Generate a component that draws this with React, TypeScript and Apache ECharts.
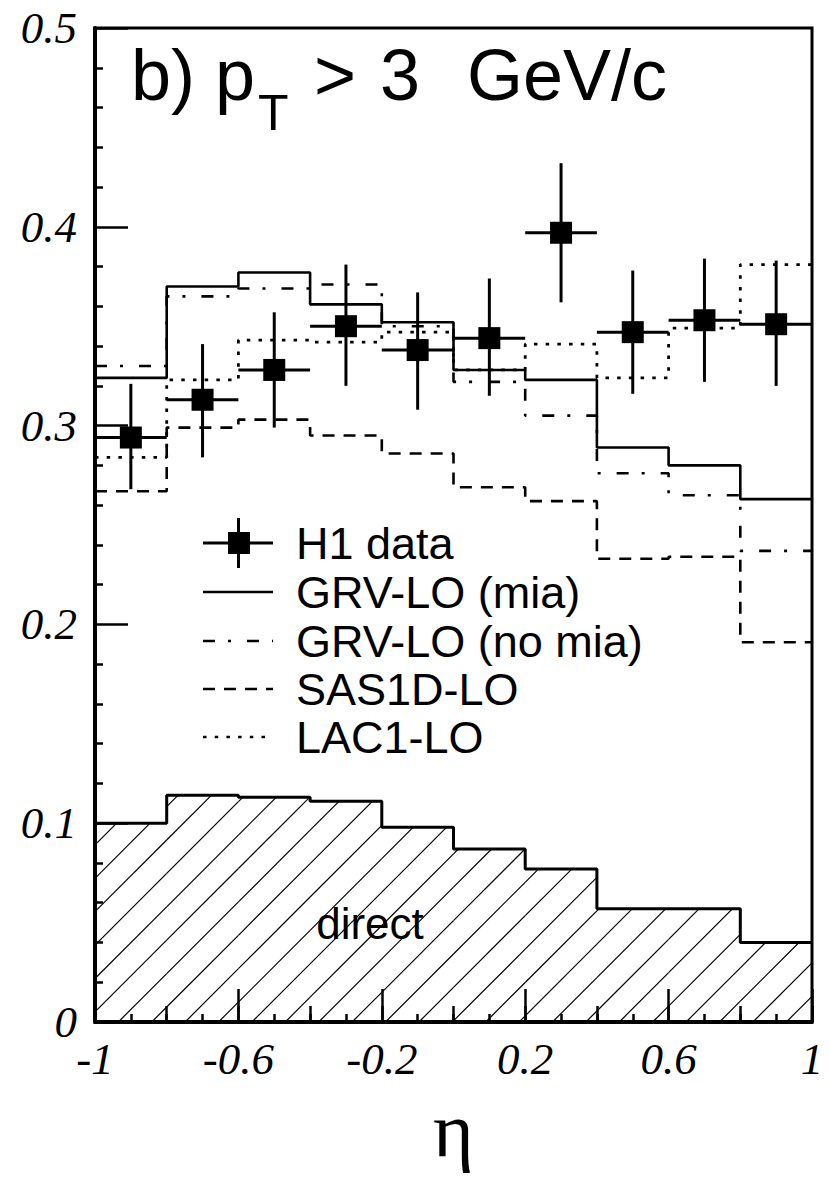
import React, { useEffect, useRef } from "react";
import * as echarts from "echarts";

// ---------- data ----------
const binEdges = [-1, -0.8, -0.6, -0.4, -0.2, 0, 0.2, 0.4, 0.6, 0.8, 1];
const etaCenters = [-0.9, -0.7, -0.5, -0.3, -0.1, 0.1, 0.3, 0.5, 0.7, 0.9];

const h1Data = [0.294, 0.313, 0.328, 0.35, 0.338, 0.344, 0.397, 0.347, 0.353, 0.351];
const h1Low = [0.268, 0.284, 0.299, 0.32, 0.308, 0.315, 0.362, 0.316, 0.322, 0.32];
const h1High = [0.321, 0.341, 0.357, 0.381, 0.367, 0.374, 0.432, 0.378, 0.384, 0.383];

const grvMia = [0.324, 0.37, 0.377, 0.361, 0.352, 0.328, 0.323, 0.289, 0.28, 0.263];
const grvNoMia = [0.33, 0.365, 0.369, 0.371, 0.35, 0.322, 0.305, 0.276, 0.265, 0.237];
const sas1d = [0.267, 0.299, 0.303, 0.295, 0.286, 0.269, 0.262, 0.233, 0.234, 0.191];
const lac1 = [0.284, 0.323, 0.343, 0.342, 0.347, 0.328, 0.341, 0.324, 0.349, 0.381];
const direct = [0.1, 0.114, 0.113, 0.111, 0.098, 0.087, 0.077, 0.057, 0.057, 0.04];

const legendLabels = ["H1 data", "GRV-LO (mia)", "GRV-LO (no mia)", "SAS1D-LO", "LAC1-LO"];
const titleParts = ["b) p", "T", ">", "3", "GeV/c"];
const directLabel = "direct";
const xAxisName = "η";

function stepData(vals: number[]) {
  const pts = vals.map((v, i) => [binEdges[i], v]);
  pts.push([binEdges[binEdges.length - 1], vals[vals.length - 1]]);
  return pts;
}

const BLACK = "#000";
const SANS = "'Liberation Sans', Arial, Helvetica, sans-serif";
const SERIF = "'Liberation Serif', 'Times New Roman', serif";

const DASH_DOT = [12, 13, 3, 16];
const DASHED = [12, 9];
const DOTTED = [3.5, 8.2];

export default function App() {
  const ref = useRef<HTMLDivElement>(null);

  useEffect(() => {
    const chart = echarts.init(ref.current!, null, { renderer: "svg" });

    const histLine = (name: string, vals: number[], dash: any, width = 2.6) => ({
      type: "line",
      name,
      data: stepData(vals),
      step: "end",
      symbol: "none",
      showSymbol: false,
      silent: true,
      z: 3,
      lineStyle: { color: BLACK, width, type: dash, cap: "butt" },
    });

    const legendY = [543, 592, 641, 689, 737];
    const lx1 = 203;
    const lx2 = 273;
    const legendGraphics: any[] = [];
    legendGraphics.push(
      { type: "line", shape: { x1: lx1, y1: legendY[0], x2: lx2, y2: legendY[0] }, style: { stroke: BLACK, lineWidth: 3 } },
      { type: "line", shape: { x1: 238.5, y1: legendY[0] - 25, x2: 238.5, y2: legendY[0] + 25 }, style: { stroke: BLACK, lineWidth: 3 } },
      { type: "rect", shape: { x: 228, y: legendY[0] - 11, width: 22, height: 22 }, style: { fill: BLACK } }
    );
    const dashes: any[] = [null, null, DASH_DOT, DASHED, DOTTED];
    for (let i = 1; i < 5; i++) {
      legendGraphics.push({
        type: "line",
        shape: { x1: lx1, y1: legendY[i], x2: lx2, y2: legendY[i] },
        style: { stroke: BLACK, lineWidth: 2.6, lineDash: dashes[i] || null },
      });
    }
    for (let i = 0; i < 5; i++) {
      legendGraphics.push({
        type: "text",
        x: 296,
        y: legendY[i],
        style: {
          text: legendLabels[i],
          fill: BLACK,
          fontFamily: SANS,
          fontSize: 45,
          align: "left",
          verticalAlign: "middle",
        },
      });
    }

    const titleY = 75;
    const titleX = [131, 258, 314, 380, 467];
    const titleGraphics = titleParts.map((t, i) => ({
      type: "text",
      x: titleX[i],
      y: i === 1 ? 113 : titleY,
      style: {
        text: t,
        fill: BLACK,
        fontFamily: SANS,
        fontSize: i === 1 ? 50 : 72,
        align: "left",
        verticalAlign: "middle",
      },
    }));

    const option: any = {
      animation: false,
      backgroundColor: "#fff",
      grid: {
        left: 95,
        right: 18,
        top: 28,
        bottom: 161,
        show: true,
        borderColor: BLACK,
        borderWidth: 3,
        outerBoundsMode: "none",
      },
      xAxis: [
        {
          type: "value",
          min: -1,
          max: 1,
          interval: 0.4,
          position: "bottom",
          name: xAxisName,
          nameLocation: "middle",
          nameGap: 68,
          nameTextStyle: { fontFamily: SERIF, fontSize: 78, color: BLACK },
          axisLine: { show: true, onZero: false, lineStyle: { color: BLACK, width: 4 } },
          axisTick: { show: true, inside: true, length: 33, lineStyle: { color: BLACK, width: 2.5 } },
          minorTick: { show: true, splitNumber: 4, length: 8, lineStyle: { color: BLACK, width: 2.5 } },
          splitLine: { show: false },
          minorSplitLine: { show: false },
          axisLabel: {
            fontFamily: SERIF,
            fontStyle: "italic",
            fontSize: 45,
            color: BLACK,
            margin: 14,
          },
        },
        {
          type: "value",
          min: -1,
          max: 1,
          interval: 0.2,
          position: "bottom",
          axisLine: { show: false, onZero: false },
          axisTick: { show: true, inside: true, length: 16, lineStyle: { color: BLACK, width: 2.5 } },
          axisLabel: { show: false },
          splitLine: { show: false },
        },
      ],
      yAxis: {
        type: "value",
        min: 0,
        max: 0.5,
        interval: 0.1,
        position: "left",
        axisLine: { show: true, onZero: false, lineStyle: { color: BLACK, width: 4 } },
        axisTick: { show: true, inside: true, length: 33, lineStyle: { color: BLACK, width: 2.5 } },
        minorTick: { show: true, splitNumber: 5, length: 8, lineStyle: { color: BLACK, width: 2.5 } },
        splitLine: { show: false },
        minorSplitLine: { show: false },
        axisLabel: {
          fontFamily: SERIF,
          fontStyle: "italic",
          fontSize: 45,
          color: BLACK,
          margin: 18,
        },
      },
      series: [
        {
          type: "custom",
          name: "direct-hatch",
          silent: true,
          z: 1,
          encode: { x: [0, 1], y: 2 },
          data: direct.map((v, i) => [binEdges[i], binEdges[i + 1], v]),
          renderItem: (params: any, api: any) => {
            const x0 = api.value(0);
            const x1 = api.value(1);
            const v = api.value(2);
            const pTop = api.coord([x0, v]);
            const pBot = api.coord([x1, 0]);
            const origin = api.coord([binEdges[0], 0]);
            const X0 = pTop[0];
            const Yt = pTop[1];
            const X1 = pBot[0];
            const Yb = pBot[1];
            const s = 33.4;
            const base = origin[0] + origin[1] + 23.3;
            const cmin = X0 + Yt;
            const cmax = X1 + Yb;
            const children: any[] = [];
            const k = Math.ceil((cmin - base) / s);
            for (let c = base + k * s; c < cmax; c += s) {
              const xa = Math.max(X0, c - Yb);
              const xb = Math.min(X1, c - Yt);
              if (xb - xa < 0.2) continue;
              children.push({
                type: "line",
                shape: { x1: xa, y1: c - xa, x2: xb, y2: c - xb },
                style: { stroke: BLACK, lineWidth: 1.2 },
              });
            }
            return { type: "group", children };
          },
        },
        histLine("direct", direct, "solid", 3),
        histLine(legendLabels[1], grvMia, "solid"),
        histLine(legendLabels[2], grvNoMia, DASH_DOT),
        histLine(legendLabels[3], sas1d, DASHED),
        histLine(legendLabels[4], lac1, DOTTED, 2.8),
        {
          type: "custom",
          name: "H1 errors",
          silent: true,
          z: 8,
          encode: { x: 0, y: [1, 2, 3] },
          data: etaCenters.map((x, i) => [x, h1Data[i], h1Low[i], h1High[i], binEdges[i], binEdges[i + 1]]),
          renderItem: (params: any, api: any) => {
            const x = api.value(0);
            const y = api.value(1);
            const lo = api.coord([x, api.value(2)]);
            const hi = api.coord([x, api.value(3)]);
            const l = api.coord([api.value(4), y]);
            const r = api.coord([api.value(5), y]);
            return {
              type: "group",
              children: [
                { type: "line", shape: { x1: lo[0], y1: lo[1], x2: hi[0], y2: hi[1] }, style: { stroke: BLACK, lineWidth: 3 } },
                { type: "line", shape: { x1: l[0], y1: l[1], x2: r[0], y2: r[1] }, style: { stroke: BLACK, lineWidth: 3 } },
              ],
            };
          },
        },
        {
          type: "scatter",
          name: legendLabels[0],
          silent: true,
          z: 10,
          symbol: "rect",
          symbolSize: 22,
          itemStyle: { color: BLACK, opacity: 1 },
          data: etaCenters.map((x, i) => [x, h1Data[i]]),
        },
      ],
      graphic: [
        ...titleGraphics,
        ...legendGraphics,
        {
          type: "text",
          x: 370,
          y: 923,
          style: {
            text: directLabel,
            fill: BLACK,
            fontFamily: SANS,
            fontSize: 44,
            align: "center",
            verticalAlign: "middle",
          },
        },
      ],
    };

    chart.setOption(option);
    return () => chart.dispose();
  }, []);

  return (
    <div
      ref={ref}
      style={{ position: "absolute", left: 0, top: 0, width: 830, height: 1183, background: "#fff" }}
    />
  );
}
